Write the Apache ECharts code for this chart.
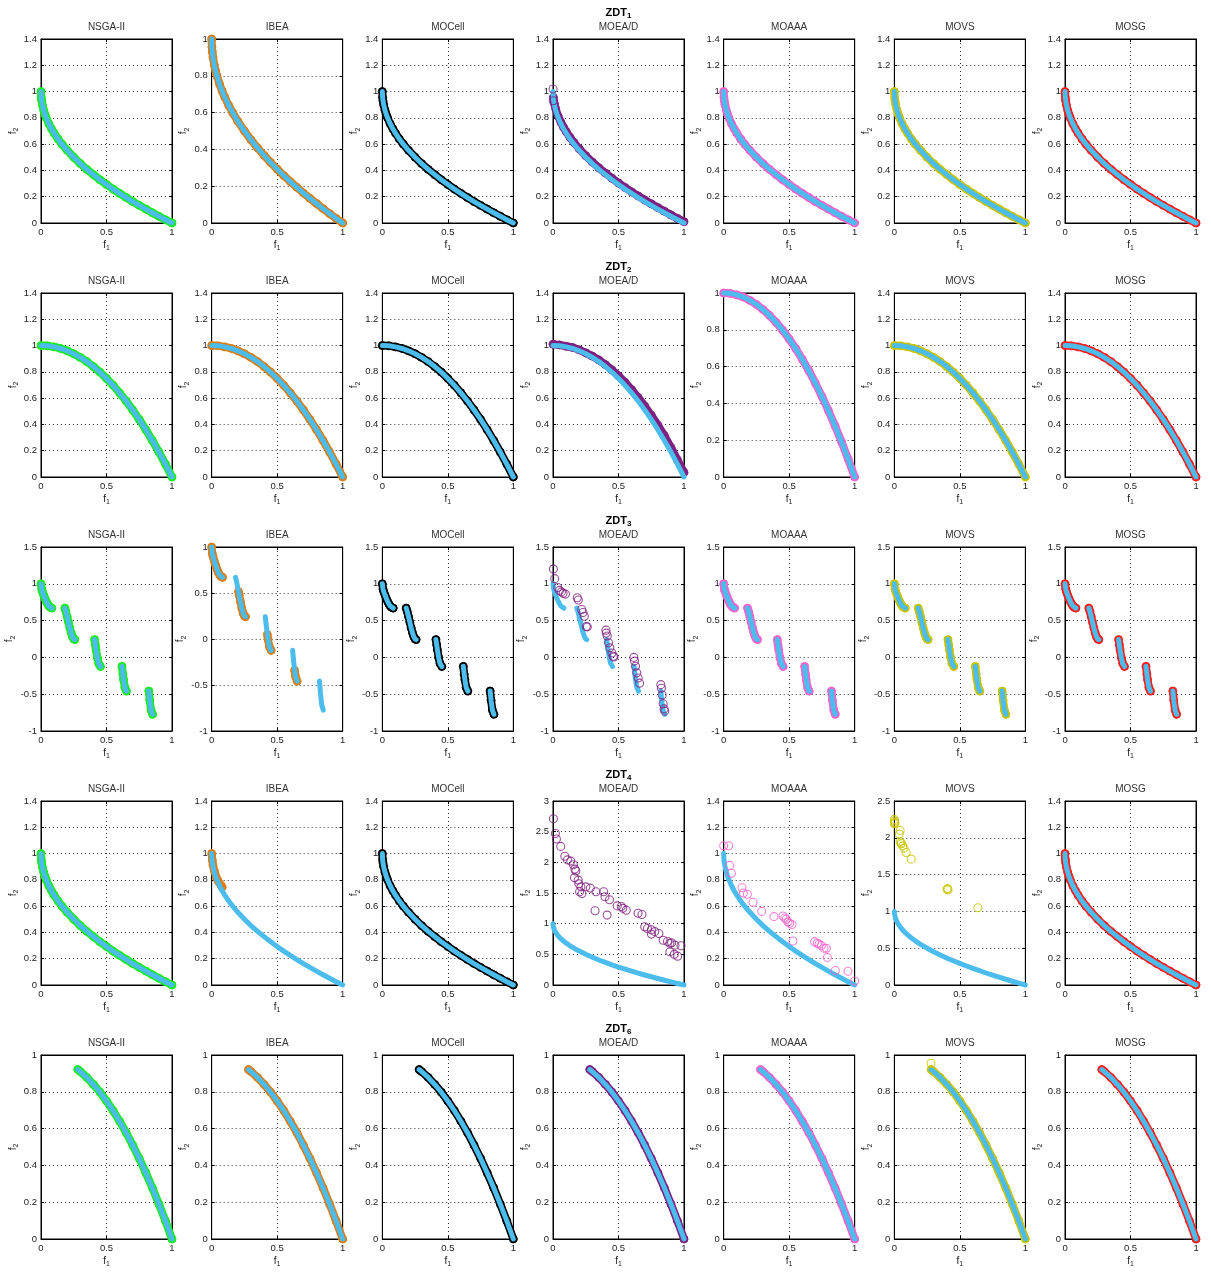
<!DOCTYPE html>
<html>
<head>
<meta charset="utf-8">
<title>ZDT Pareto fronts</title>
<script src="https://cdn.jsdelivr.net/npm/echarts@6/dist/echarts.min.js"></script>
<style>
  html, body { margin: 0; padding: 0; background: #fff; }
  #chart { width: 1211px; height: 1273px; }
</style>
</head>
<body>
<div id="chart"></div>
<script>
// ---- algorithms (one column each) ----
const algorithms = ['NSGA-II', 'IBEA', 'MOCell', 'MOEA/D', 'MOAAA', 'MOVS', 'MOSG'];
const algColors = ['#1aeb1a', '#dd7c12', '#000000', '#7e2080', '#f561cc', '#c9c400', '#ff1a1a'];
const frontColor = '#4cbcec';

// ---- problems (one row each): ZDT subscripts ----
const problemIds = ['1', '2', '3', '4', '6'];

// ---- true Pareto fronts (f1, f2) ----
const zdt1Front = [
  [0, 1], [0.002, 0.955], [0.005, 0.93], [0.01, 0.9], [0.02, 0.859], [0.03, 0.827],
  [0.04, 0.8], [0.06, 0.755], [0.08, 0.717], [0.1, 0.684], [0.13, 0.639], [0.16, 0.6],
  [0.2, 0.553], [0.25, 0.5], [0.3, 0.452], [0.35, 0.408], [0.4, 0.368], [0.45, 0.329],
  [0.5, 0.293], [0.55, 0.258], [0.6, 0.225], [0.65, 0.194], [0.7, 0.163], [0.75, 0.134],
  [0.8, 0.106], [0.85, 0.078], [0.9, 0.051], [0.95, 0.025], [1, 0]
];
const zdt2Front = [
  [0, 1], [0.05, 0.998], [0.1, 0.99], [0.15, 0.978], [0.2, 0.96], [0.25, 0.938],
  [0.3, 0.91], [0.35, 0.878], [0.4, 0.84], [0.45, 0.798], [0.5, 0.75], [0.55, 0.698],
  [0.6, 0.64], [0.65, 0.578], [0.7, 0.51], [0.75, 0.438], [0.8, 0.36], [0.85, 0.278],
  [0.9, 0.19], [0.95, 0.098], [1, 0]
];
// five disconnected pieces, separated by '-'
const zdt3Front = [
  [0, 1], [0.005, 0.928], [0.01, 0.897], [0.02, 0.847], [0.03, 0.803], [0.04, 0.762],
  [0.05, 0.726], [0.06, 0.698], [0.07, 0.679], [0.083, 0.67], '-',
  [0.182, 0.67], [0.19, 0.624], [0.2, 0.553], [0.21, 0.477], [0.22, 0.402], [0.23, 0.335],
  [0.24, 0.282], [0.25, 0.25], [0.258, 0.242], '-',
  [0.409, 0.242], [0.415, 0.17], [0.42, 0.105], [0.43, -0.004], [0.44, -0.082], [0.454, -0.124], '-',
  [0.618, -0.122], [0.625, -0.23], [0.63, -0.303], [0.64, -0.409], [0.6525, -0.458], '-',
  [0.823, -0.457], [0.83, -0.582], [0.84, -0.715], [0.852, -0.773]
];
const zdt4Front = zdt1Front; // ZDT4 shares the ZDT1 front
const zdt6Front = [
  [0.281, 0.921], [0.3, 0.91], [0.35, 0.878], [0.4, 0.84], [0.45, 0.798], [0.5, 0.75],
  [0.55, 0.698], [0.6, 0.64], [0.65, 0.578], [0.7, 0.51], [0.75, 0.438], [0.8, 0.36],
  [0.85, 0.278], [0.9, 0.19], [0.95, 0.098], [1, 0]
];

// ---- obtained sets that deviate from the true front ----
const moeadZdt1 = [
  [0.003, 0.955], [0.01, 0.91], [0.02, 0.87], [0.04, 0.811], [0.06, 0.767], [0.08, 0.729],
  [0.1, 0.696], [0.13, 0.651], [0.16, 0.612], [0.2, 0.565], [0.25, 0.512], [0.3, 0.464],
  [0.35, 0.42], [0.4, 0.38], [0.45, 0.341], [0.5, 0.305], [0.55, 0.27], [0.6, 0.237],
  [0.65, 0.206], [0.7, 0.175], [0.75, 0.146], [0.8, 0.118], [0.85, 0.09], [0.9, 0.062],
  [0.95, 0.035], [1, 0.01]
];
const moeadZdt1Dots = [[0, 1.02], [0.002, 0.93]];
const moeadZdt2 = [
  [0, 1.01], [0.05, 1.005], [0.1, 0.995], [0.15, 0.985], [0.2, 0.968], [0.25, 0.945],
  [0.3, 0.92], [0.35, 0.89], [0.4, 0.855], [0.45, 0.815], [0.5, 0.77], [0.55, 0.72],
  [0.6, 0.665], [0.65, 0.605], [0.7, 0.54], [0.75, 0.47], [0.8, 0.395], [0.85, 0.315],
  [0.9, 0.225], [0.95, 0.13], [1, 0.035]
];
const ibeaZdt3 = [
  [0, 1], [0.005, 0.928], [0.01, 0.897], [0.02, 0.847], [0.03, 0.803], [0.04, 0.762],
  [0.05, 0.726], [0.06, 0.698], [0.07, 0.679], [0.083, 0.67], '-',
  [0.205, 0.515], [0.21, 0.477], [0.22, 0.402], [0.23, 0.335], [0.24, 0.282], [0.25, 0.25], [0.258, 0.242], '-',
  [0.425, 0.048], [0.43, -0.004], [0.44, -0.082], [0.454, -0.124], '-',
  [0.633, -0.341], [0.64, -0.409], [0.6525, -0.458]
];
const moeadZdt3Dots = [
  [0.003, 1.2], [0.013, 1.07], [0.036, 0.95], [0.049, 0.91], [0.064, 0.89], [0.077, 0.87], [0.095, 0.86],
  [0.185, 0.81], [0.193, 0.78], [0.219, 0.65], [0.229, 0.61], [0.239, 0.56], [0.254, 0.42], [0.262, 0.415],
  [0.404, 0.37], [0.406, 0.33], [0.414, 0.29], [0.424, 0.2], [0.434, 0.13], [0.45, 0.06], [0.46, 0.015], [0.465, 0.005],
  [0.617, 0], [0.622, -0.05], [0.63, -0.12], [0.64, -0.21], [0.65, -0.28], [0.661, -0.35],
  [0.823, -0.37], [0.828, -0.42], [0.833, -0.51], [0.841, -0.63], [0.848, -0.7], [0.853, -0.73]
];
const ibeaZdt4 = [
  [0, 1], [0.005, 0.95], [0.01, 0.91], [0.02, 0.87], [0.035, 0.82], [0.05, 0.79], [0.07, 0.76], [0.08, 0.745]
];
const moeadZdt4Dots = [
  [0.003, 2.71], [0.018, 2.47], [0.026, 2.38], [0.059, 2.26], [0.09, 2.1], [0.11, 2.04], [0.136, 2.02],
  [0.156, 1.96], [0.167, 1.89], [0.174, 1.86], [0.164, 1.75], [0.192, 1.71], [0.197, 1.65], [0.213, 1.6],
  [0.203, 1.52], [0.221, 1.49], [0.251, 1.6], [0.285, 1.58], [0.328, 1.52], [0.321, 1.21], [0.387, 1.52],
  [0.397, 1.44], [0.431, 1.39], [0.413, 1.14], [0.49, 1.29], [0.521, 1.28], [0.533, 1.25], [0.559, 1.22],
  [0.649, 1.17], [0.679, 1.15], [0.7, 0.95], [0.721, 0.92], [0.751, 0.9], [0.751, 0.83], [0.777, 0.87],
  [0.808, 0.84], [0.841, 0.73], [0.874, 0.71], [0.892, 0.68], [0.905, 0.69], [0.931, 0.65], [0.977, 0.64],
  [0.892, 0.54], [0.926, 0.5], [0.951, 0.47]
];
const moaaaZdt4Dots = [
  [0, 1.06], [0.038, 1.06], [0.046, 0.91], [0.059, 0.85], [0.14, 0.74], [0.15, 0.7], [0.181, 0.69],
  [0.224, 0.63], [0.29, 0.56], [0.384, 0.52], [0.453, 0.525], [0.466, 0.51], [0.478, 0.5], [0.491, 0.48],
  [0.504, 0.47], [0.522, 0.46], [0.529, 0.335], [0.695, 0.33], [0.715, 0.317], [0.728, 0.31], [0.746, 0.3],
  [0.766, 0.28], [0.784, 0.28], [0.791, 0.21], [0.852, 0.11], [0.949, 0.105], [1, 0.03]
];
const movsZdt4Dots = [
  [0, 2.25], [0.002, 2.23], [0.004, 2.21], [0, 2.19], [0.003, 2.2], [0.044, 2.1], [0.038, 2.05],
  [0.044, 1.95], [0.05, 1.93], [0.054, 1.92], [0.064, 1.89], [0.074, 1.86], [0.09, 1.8], [0.128, 1.71],
  [0.403, 1.3], [0.41, 1.29], [0.406, 1.31], [0.638, 1.05]
];
const movsZdt6Dots = [[0.28, 0.955]];

// ---- y-axis ranges: [min, max, interval] per panel ----
const yStd = [0, 1.4, 0.2], yUnit = [0, 1, 0.2];
const yRanges = [
  [yStd, yUnit, yStd, yStd, yStd, yStd, yStd],
  [yStd, yStd, yStd, yStd, yUnit, yStd, yStd],
  [[-1, 1.5, 0.5], [-1, 1, 0.5], [-1, 1.5, 0.5], [-1, 1.5, 0.5], [-1, 1.5, 0.5], [-1, 1.5, 0.5], [-1, 1.5, 0.5]],
  [yStd, yStd, yStd, [0, 3, 0.5], yStd, [0, 2.5, 0.5], yStd],
  [yUnit, yUnit, yUnit, yUnit, yUnit, yUnit, yUnit]
];
const xRange = [0, 1, 0.5];

// ---- what each panel draws ----
const trueFronts = [zdt1Front, zdt2Front, zdt3Front, zdt4Front, zdt6Front];
const bands = [
  [zdt1Front, zdt1Front, zdt1Front, moeadZdt1, zdt1Front, zdt1Front, zdt1Front],
  [zdt2Front, zdt2Front, zdt2Front, moeadZdt2, zdt2Front, zdt2Front, zdt2Front],
  [zdt3Front, ibeaZdt3, zdt3Front, null, zdt3Front, zdt3Front, zdt3Front],
  [zdt4Front, ibeaZdt4, zdt4Front, null, null, null, zdt4Front],
  [zdt6Front, zdt6Front, zdt6Front, zdt6Front, zdt6Front, zdt6Front, zdt6Front]
];
const dots = [
  [null, null, null, moeadZdt1Dots, null, null, null],
  [null, null, null, null, null, null, null],
  [null, null, null, moeadZdt3Dots, null, null, null],
  [null, null, null, moeadZdt4Dots, moaaaZdt4Dots, movsZdt4Dots, null],
  [null, null, null, null, null, movsZdt6Dots, null]
];

// ---- layout ----
const FONT = '"Liberation Sans", Arial, Helvetica, sans-serif';
const LEFT0 = 41, COL_STEP = 170.67, PW = 131;
const TOP0 = 39, ROW_STEP = 254, PH = 184;

const grids = [], xAxes = [], yAxes = [], series = [], titles = [];
const subRich = {
  f: { fontSize: 10, fontFamily: FONT, color: '#222' },
  s: { fontSize: 7, fontFamily: FONT, color: '#222', padding: [7, 0, 0, 0] }
};
const dotted = { color: '#333', type: [1, 3], width: 1 };

function baseAxis(gi, pos, range, main) {
  return {
    gridIndex: gi, type: 'value', position: pos,
    min: range[0], max: range[1], interval: range[2],
    axisLine: { show: true, onZero: false, lineStyle: { color: '#000', width: 1 } },
    axisTick: { show: true, inside: true, length: 3, lineStyle: { color: '#000' } },
    axisLabel: { show: main, fontSize: 9.5, color: '#222', fontFamily: FONT, margin: 4 },
    splitLine: { show: main, lineStyle: dotted }
  };
}

for (let r = 0; r < problemIds.length; r++) {
  for (let c = 0; c < algorithms.length; c++) {
    const gi = r * algorithms.length + c;
    const left = LEFT0 + c * COL_STEP;
    const top = TOP0 + r * ROW_STEP;
    grids.push({ left: left, top: top, width: PW, height: PH, show: true,
      borderColor: '#000', borderWidth: 1, backgroundColor: '#fff' });

    const xMain = baseAxis(gi, 'bottom', xRange, true);
    xMain.name = '{f|f}{s|1}';
    xMain.nameLocation = 'middle';
    xMain.nameGap = 15;
    xMain.nameTextStyle = { rich: subRich };
    xAxes.push(xMain, baseAxis(gi, 'top', xRange, false));

    const yMain = baseAxis(gi, 'left', yRanges[r][c], true);
    yMain.name = '{f|f}{s|2}';
    yMain.nameLocation = 'middle';
    yMain.nameGap = 21;
    yMain.nameTextStyle = { rich: subRich };
    yAxes.push(yMain, baseAxis(gi, 'right', yRanges[r][c], false));

    const ax = { xAxisIndex: 2 * gi, yAxisIndex: 2 * gi };
    const col = algColors[c];

    if (bands[r][c]) {
      series.push(Object.assign({
        type: 'line', data: bands[r][c], clip: false, silent: true, z: 2,
        symbol: 'circle', symbolSize: 8,
        itemStyle: { color: 'rgba(0,0,0,0)', borderColor: col, borderWidth: 1 },
        lineStyle: { color: col, width: 8, cap: 'round', join: 'round' }
      }, ax));
    }
    series.push(Object.assign({
      type: 'line', data: trueFronts[r], clip: false, silent: true, z: 3,
      symbol: 'none',
      lineStyle: { color: frontColor, width: 5, cap: 'round', join: 'round' }
    }, ax));
    if (dots[r][c]) {
      series.push(Object.assign({
        type: 'scatter', data: dots[r][c], clip: false, silent: true, z: 4,
        symbol: 'circle', symbolSize: 8,
        itemStyle: { color: 'rgba(0,0,0,0)', borderColor: col, borderWidth: 1.1 }
      }, ax));
    }

    titles.push({
      text: algorithms[c], left: left + PW / 2, top: top - 17, textAlign: 'center', padding: 0,
      textStyle: { fontSize: 10, fontWeight: 'normal', color: '#333', fontFamily: FONT }
    });
  }
  // problem heading above the middle column
  titles.push({
    text: '{a|ZDT}{b|' + problemIds[r] + '}',
    left: LEFT0 + 3 * COL_STEP + PW / 2, top: TOP0 + r * ROW_STEP - 34,
    textAlign: 'center', padding: 0,
    textStyle: {
      rich: {
        a: { fontSize: 11, fontWeight: 'bold', color: '#000', fontFamily: FONT },
        b: { fontSize: 8, fontWeight: 'bold', color: '#000', fontFamily: FONT, padding: [7, 0, 0, 0] }
      }
    }
  });
}

const chart = echarts.init(document.getElementById('chart'), null, { renderer: 'canvas' });
chart.setOption({
  backgroundColor: '#fff',
  animation: false,
  title: titles,
  grid: grids,
  xAxis: xAxes,
  yAxis: yAxes,
  series: series
});
</script>
</body>
</html>
